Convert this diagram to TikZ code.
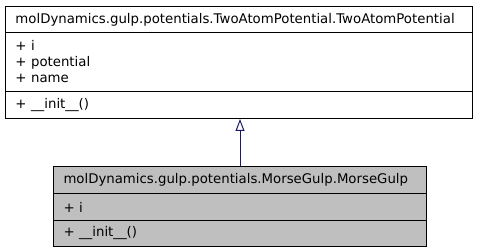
\documentclass[tikz,border=0pt]{standalone}
\usepackage{fontspec}
\setmainfont{DejaVu Sans}
\usetikzlibrary{positioning,arrows.meta}
\definecolor{edgeblue}{HTML}{191970}
\definecolor{boxgray}{HTML}{BFBFBF}
\tikzset{font=\fontsize{13.3}{16}\selectfont}

\begin{document}
\begin{tikzpicture}[x=1pt, y=-1pt]
	\useasboundingbox (0,0) rectangle (477,251);
	\begin{scope}
		\tikzstyle{every node}=[draw, line width=1pt, anchor=north west, align=left, inner xsep=10pt, inner ysep=0pt]
		\tikzstyle{compart}=[minimum height=#1]
		\tikzstyle{basebox}=[text width=447pt]
		\tikzstyle{derivbox}=[text width=353pt, fill=boxgray]

		% base class
		\node[basebox, compart=26pt] (two) at (5, 6) {molDynamics.gulp.potentials.TwoAtomPotential.TwoAtomPotential};
		\node[basebox, compart=59pt] (twoattr) at (5, 32) {+ i\\+ potential\\+ name};
		\node[basebox, compart=27pt] (twoop) at (5, 91) {+ \_\_init\_\_()};

		% derived class
		\node[derivbox, compart=27pt] (morse) at (53, 166) {molDynamics.gulp.potentials.MorseGulp.MorseGulp};
		\node[derivbox, compart=27pt] (morseattr) at (53, 193) {+ i};
		\node[derivbox, compart=26pt] (morseop) at (53, 220) {+ \_\_init\_\_()};

		\draw[edgeblue, line width=1pt, -{Triangle[open, length=12pt, width=9pt]}] (morse.north) -- (morse.north |- twoop.south);
	\end{scope}
\end{tikzpicture}
\end{document}
